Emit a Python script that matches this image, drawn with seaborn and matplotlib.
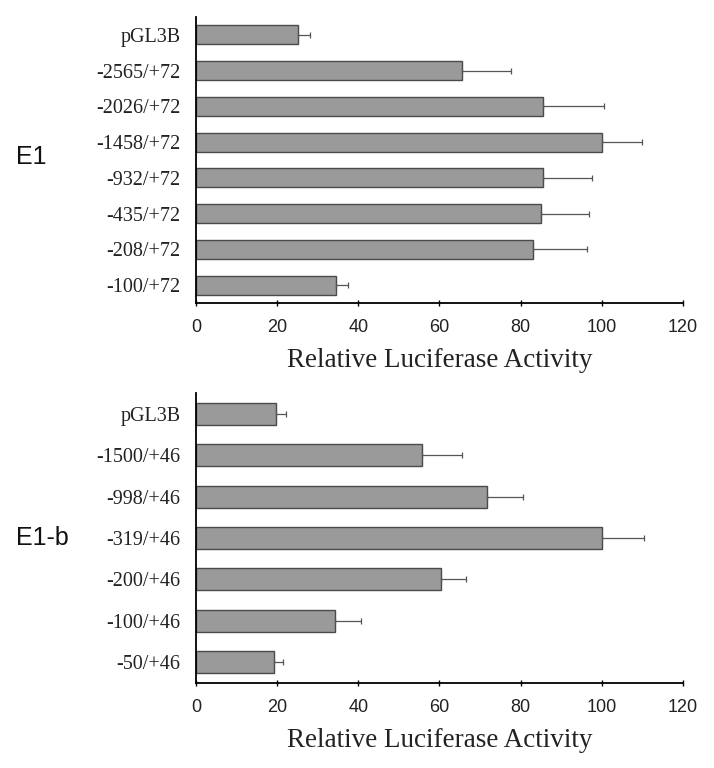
import numpy as np
import pandas as pd
import matplotlib
matplotlib.use('Agg')
import matplotlib.pyplot as plt
import seaborn as sns

# ---- data ----
e1_labels = ['pGL3B', '-2565/+72', '-2026/+72', '-1458/+72',
             '-932/+72', '-435/+72', '-208/+72', '-100/+72']
e1_values = [25.2, 65.6, 85.6, 100.0, 85.6, 85.1, 83.0, 34.6]
e1_errors = [2.8, 12.1, 14.9, 9.8, 11.9, 11.7, 13.3, 2.9]

e1b_labels = ['pGL3B', '-1500/+46', '-998/+46', '-319/+46',
              '-200/+46', '-100/+46', '-50/+46']
e1b_values = [19.7, 55.8, 71.6, 100.0, 60.3, 34.3, 19.3]
e1b_errors = [2.5, 9.8, 8.9, 10.3, 6.3, 6.3, 2.2]

x_ticks = [0, 20, 40, 60, 80, 100, 120]
x_label = 'Relative Luciferase Activity'

sns.set_theme(style='white')
plt.rcParams['font.family'] = ['Liberation Serif', 'DejaVu Serif']

fig = plt.figure(figsize=(7.14, 7.68), dpi=100)
ax_top = fig.add_axes([0.2745, 0.6055, 0.682, 0.3725])
ax_bot = fig.add_axes([0.2745, 0.1107, 0.682, 0.3776])

BAR = '#9a9a9a'
EDGE = '#4a4a4a'


def draw_panel(ax, labels, values, errors, tag, tag_y):
    df = pd.DataFrame({'construct': labels, 'activity': values})
    sns.barplot(data=df, x='activity', y='construct', orient='h',
                color=BAR, saturation=1, edgecolor=EDGE, linewidth=1.0,
                width=0.53, ax=ax)
    # one-sided (positive) error bars
    ax.errorbar(values, np.arange(len(labels)),
                xerr=[np.zeros(len(errors)), errors], fmt='none',
                ecolor='#555555', elinewidth=0.9, capsize=2.5, capthick=0.9)
    ax.set_xlim(0, 120)
    ax.set_ylim(len(labels) - 0.5, -0.5)
    ax.set_xticks(x_ticks)
    ax.set_xticklabels([str(t) for t in x_ticks],
                       family=['Liberation Sans', 'DejaVu Sans'],
                       fontsize=13, color='#222222')
    ax.tick_params(axis='x', direction='inout', length=5, width=1.0,
                   color='black', pad=9, bottom=True)
    ax.tick_params(axis='y', length=0, pad=11, labelsize=14.5,
                   labelcolor='#222222')
    ax.set_ylabel('')
    ax.set_xlabel(x_label, fontsize=19.5, labelpad=9, color='#222222')
    for side in ['top', 'right']:
        ax.spines[side].set_visible(False)
    for side in ['left', 'bottom']:
        ax.spines[side].set_color('black')
        ax.spines[side].set_linewidth(1.3)
    fig.text(0.022, tag_y, tag, fontsize=18,
             family=['Liberation Sans', 'DejaVu Sans'],
             ha='left', va='center', color='#111111')


draw_panel(ax_top, e1_labels, e1_values, e1_errors, 'E1', 1 - 157 / 768)
draw_panel(ax_bot, e1b_labels, e1b_values, e1b_errors, 'E1-b', 1 - 538 / 768)

fig.savefig('out.png', dpi=100)
